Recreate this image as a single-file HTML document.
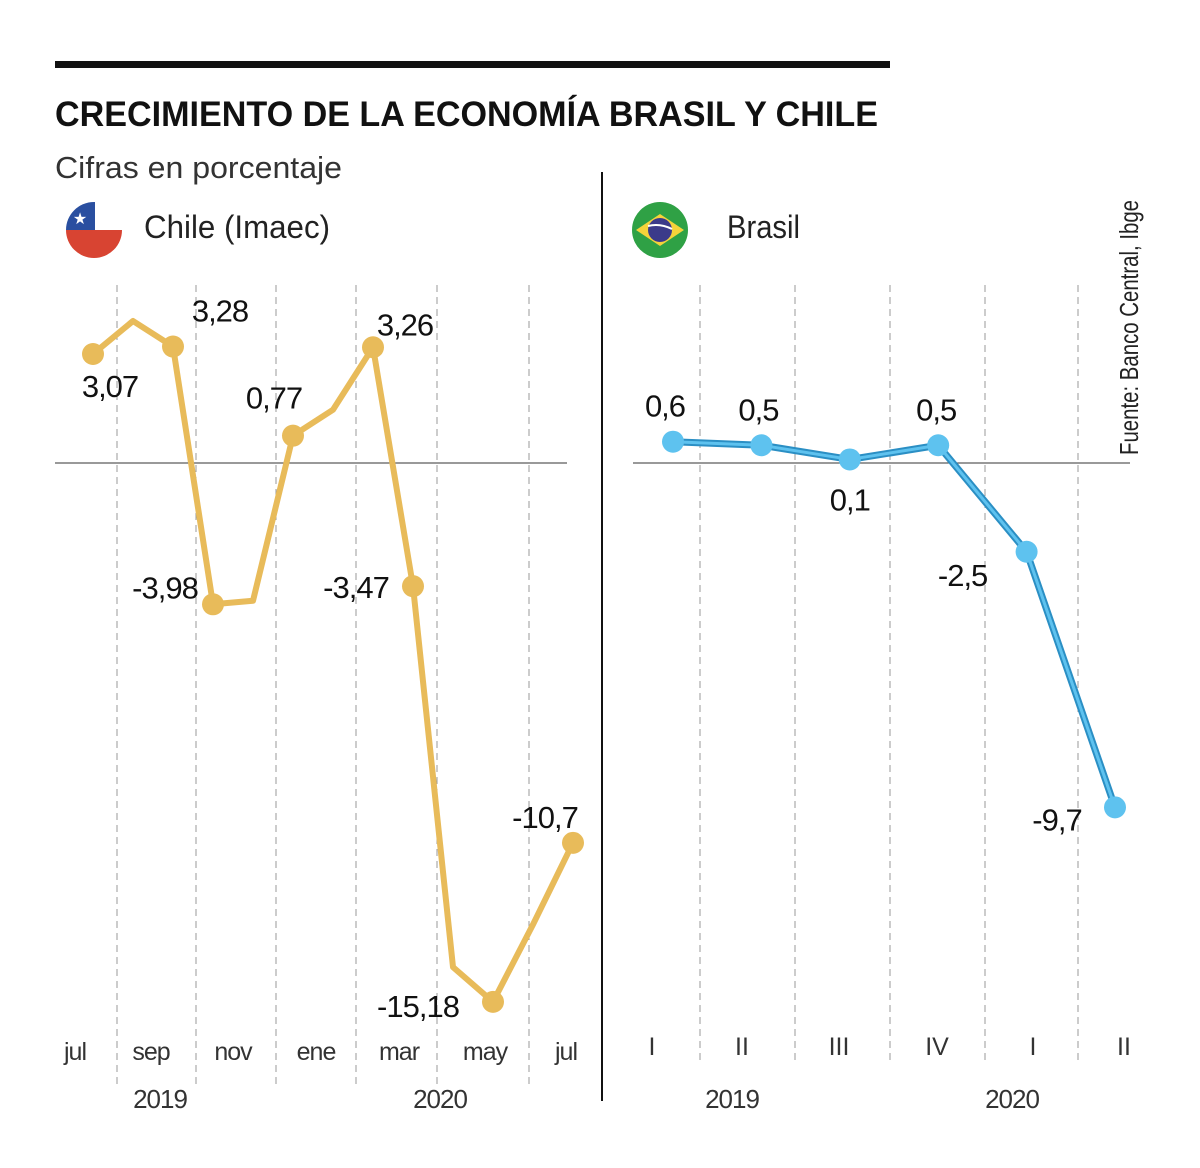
<!DOCTYPE html>
<html><head><meta charset="utf-8">
<style>
body{margin:0;background:#fff;}
svg{display:block;font-family:"Liberation Sans Narrow","Liberation Sans",sans-serif;}
</style></head>
<body>
<svg id="chart" width="1200" height="1168" viewBox="0 0 1200 1168">
<rect x="55" y="61" width="835" height="7" fill="#111"/>
<text x="55" y="126" font-family="Liberation Sans, sans-serif" font-weight="bold" font-size="35" fill="#111" textLength="823" lengthAdjust="spacingAndGlyphs">CRECIMIENTO DE LA ECONOMÍA BRASIL Y CHILE</text>
<text x="55" y="178" font-size="31" fill="#333" textLength="287" lengthAdjust="spacingAndGlyphs">Cifras en porcentaje</text>
<line x1="602" y1="172" x2="602" y2="1101" stroke="#111" stroke-width="2"/>
<g>
<clipPath id="cc"><circle cx="94" cy="230" r="28"/></clipPath>
<g clip-path="url(#cc)"><rect x="66" y="202" width="56" height="56" fill="#fff"/><rect x="66" y="230" width="56" height="28" fill="#d84432"/><rect x="66" y="202" width="29" height="28" fill="#2a4fa0"/></g>
<text x="80" y="224" font-size="16" fill="#fff" text-anchor="middle">★</text>
</g>
<text x="144" y="238" font-size="32" fill="#222" textLength="186" lengthAdjust="spacingAndGlyphs">Chile (Imaec)</text>
<g>
<circle cx="660" cy="230" r="28" fill="#2fa145"/>
<polygon points="636,230 660,214 684,230 660,246" fill="#f5d33a"/>
<circle cx="660" cy="230" r="12" fill="#3b3a8a"/>
<path d="M648,226 Q660,223 672,229" stroke="#fff" stroke-width="2" fill="none"/>
</g>
<text x="727" y="238" font-size="32" fill="#222" textLength="73" lengthAdjust="spacingAndGlyphs">Brasil</text>
<text transform="translate(1138,455) rotate(-90)" font-size="26" fill="#222" textLength="255" lengthAdjust="spacingAndGlyphs">Fuente: Banco Central, Ibge</text>
<g id="chile"></g>
<g id="brasil"></g>
</svg>
<script>
const chileMonths=['jul','ago','sep','oct','nov','dic','ene','feb','mar','abr','may','jun','jul2'];
const chileValues=[3.07,4.0,3.28,-3.98,-3.88,0.77,1.5,3.26,-3.47,-14.2,-15.18,-13.0,-10.7];
const chileLabels=['3,07',null,'3,28','-3,98',null,'0,77',null,'3,26','-3,47',null,'-15,18',null,'-10,7'];
const chileDots=[0,2,3,5,7,8,10,12];
const chileTicks=['jul','sep','nov','ene','mar','may','jul'];
const chileTickX=[75,151,233,316,399,485,566];
const chileGrid=[117,196,276,356,437,529];
const chileYears=['2019','2020'];
const brQuarters=['I','II','III','IV','I','II'];
const brValues=[0.6,0.5,0.1,0.5,-2.5,-9.7];
const brLabels=['0,6','0,5','0,1','0,5','-2,5','-9,7'];
const brYears=['2019','2020'];
const NS='http://www.w3.org/2000/svg';
function mk(p,tag,attrs){const e=document.createElementNS(NS,tag);for(const k in attrs)e.setAttribute(k,attrs[k]);p.appendChild(e);return e;}
const yZero=463, pxPer=35.5;
const y=v=>yZero-v*pxPer;
// Chile
const cg=document.getElementById('chile');
const cx=i=>93+i*(573-93)/(chileValues.length-1);
chileGrid.forEach(gx=>{const l=mk(cg,'line',{x1:gx,y1:285,x2:gx,y2:1085,stroke:'#999','stroke-width':1,'stroke-dasharray':'7,5'});

});
let z=mk(cg,'line',{x1:55,y1:yZero,x2:567,y2:yZero,stroke:'#333','stroke-width':1});


let cl=mk(cg,'polyline',{points:chileValues.map((v,i)=>cx(i)+','+y(v)).join(' '),fill:'none',stroke:'#e8bb5a','stroke-width':6,'stroke-linejoin':'round'});


const cOff={0:[17,43],2:[47,-25],3:[-48,-6],5:[-19,-27],7:[32,-12],8:[-57,12],10:[-75,15],12:[-28,-15]};
chileDots.forEach(i=>{const c=mk(cg,'circle',{cx:cx(i),cy:y(chileValues[i]),r:11,fill:'#e8bb5a'});

});
chileLabels.forEach((t,i)=>{if(!t)return;const o=cOff[i];const e=mk(cg,'text',{x:cx(i)+o[0],y:y(chileValues[i])+o[1],'font-size':31,fill:'#111','text-anchor':'middle','letter-spacing':'-1'});e.textContent=t;

});
chileTicks.forEach((t,i)=>{const e=mk(cg,'text',{x:chileTickX[i],y:1060,'font-size':25,fill:'#333','text-anchor':'middle','letter-spacing':'-1'});e.textContent=t;

});
[160,440].forEach((x,i)=>{const e=mk(cg,'text',{x:x,y:1108,'font-size':26,fill:'#333','text-anchor':'middle','letter-spacing':'-1'});e.textContent=chileYears[i];

});
// Brasil
const bg=document.getElementById('brasil');
const bx=i=>673+i*(1115-673)/(brValues.length-1);
[700,795,890,985,1078].forEach(gx=>{const l=mk(bg,'line',{x1:gx,y1:285,x2:gx,y2:1060,stroke:'#999','stroke-width':1,'stroke-dasharray':'7,5'});

});
z=mk(bg,'line',{x1:633,y1:yZero,x2:1130,y2:yZero,stroke:'#333','stroke-width':1});


const bpts=brValues.map((v,i)=>bx(i)+','+y(v)).join(' ');
let bl1=mk(bg,'polyline',{points:bpts,fill:'none',stroke:'#2b8fc4','stroke-width':7,'stroke-linejoin':'round'});


let bl2=mk(bg,'polyline',{points:bpts,fill:'none',stroke:'#5ec2ef','stroke-width':3,'stroke-linejoin':'round'});


const bOff=[[-8,-35],[-3,-35],[0,41],[-2,-35],[-64,24],[-58,13]];
brValues.forEach((v,i)=>{const c=mk(bg,'circle',{cx:bx(i),cy:y(v),r:11,fill:'#5ec2ef'});


const e=mk(bg,'text',{x:bx(i)+bOff[i][0],y:y(v)+bOff[i][1]+10,'font-size':31,fill:'#111','text-anchor':'middle','letter-spacing':'-1'});e.textContent=brLabels[i];

});
[652,742,839,937,1033,1124].forEach((x,i)=>{const e=mk(bg,'text',{x:x,y:1055,'font-size':25,fill:'#333','text-anchor':'middle'});e.textContent=brQuarters[i];

});
[732,1012].forEach((x,i)=>{const e=mk(bg,'text',{x:x,y:1108,'font-size':26,fill:'#333','text-anchor':'middle','letter-spacing':'-1'});e.textContent=brYears[i];

});
</script>
</body></html>
